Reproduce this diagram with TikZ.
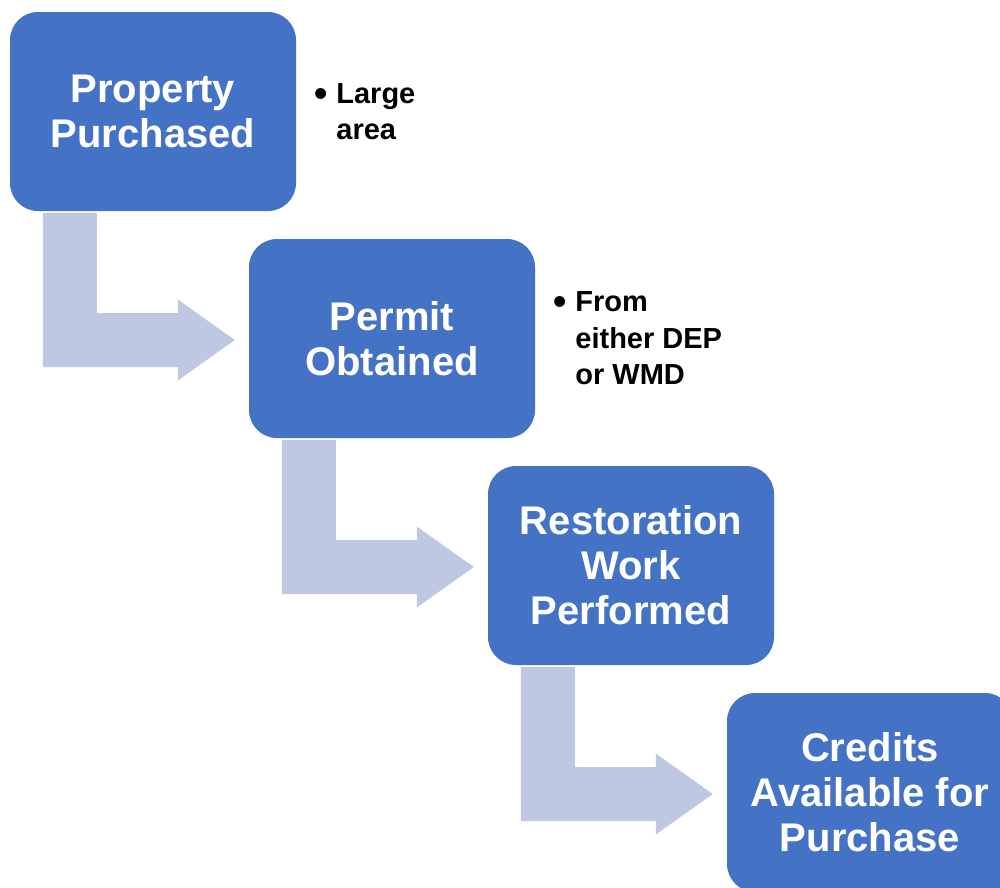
\documentclass[tikz,border=0pt]{standalone}
\usepackage{fontspec}
\setmainfont{Liberation Sans}
\usetikzlibrary{positioning,calc}
\definecolor{boxblue}{HTML}{4472C4}
\definecolor{arrowblue}{HTML}{BFC8E3}
\tikzset{
  stage/.style={fill=boxblue,rounded corners=28pt,minimum width=286pt,minimum height=199pt,
    inner sep=0pt,text=white,align=center,font=\fontsize{40}{45}\selectfont\bfseries},
  note/.style={inner sep=0pt,align=left,anchor=west,font=\fontsize{29}{36.5}\selectfont\bfseries},
  bent/.style={fill=arrowblue}
}
\newcommand{\blt}{\llap{\raisebox{-3pt}{\fontsize{38}{38}\selectfont•}\hspace{9pt}}}
\begin{document}
\begin{tikzpicture}[x=1pt,y=-1pt]
                \clip (0,0) rectangle (1000,887);
                \useasboundingbox (0,0) rectangle (1000,887);
                \fill[white] (0,0) rectangle (1000,887);
                %% stages
                \node[stage] (property) at (153,111.5) {Property\\Purchased};
                \node[stage] (permit) at (392,338.5) {Permit\\Obtained};
                \node[stage] (restoration) at (631,565.5) {Restoration\\Work\\Performed};
                \node[stage] (credits) at (870,792.5) {Credits\\Available for\\Purchase};
                %% notes
                \node[note,right=40pt of property] (area) {\blt Large\\area};
                \node[note,right=40pt of permit] (source) {\blt From\\either DEP\\or WMD};
                %% bent arrows
                \foreach \a/\b in {property/permit,permit/restoration,restoration/credits}
                    \fill[bent] ($(\a.south west)+(33,2)$) -- ($(\a.south west)+(87,2)$)
                        |- ($(\b.west)+(-71,-25.5)$) -- ($(\b.west)+(-71,-39)$)
                        -- ($(\b.west)+(-14,1.5)$) -- ($(\b.west)+(-71,42)$)
                        -- ($(\b.west)+(-71,28.5)$) -| ($(\a.south west)+(33,2)$) -- cycle;
            \end{tikzpicture}
\end{document}
